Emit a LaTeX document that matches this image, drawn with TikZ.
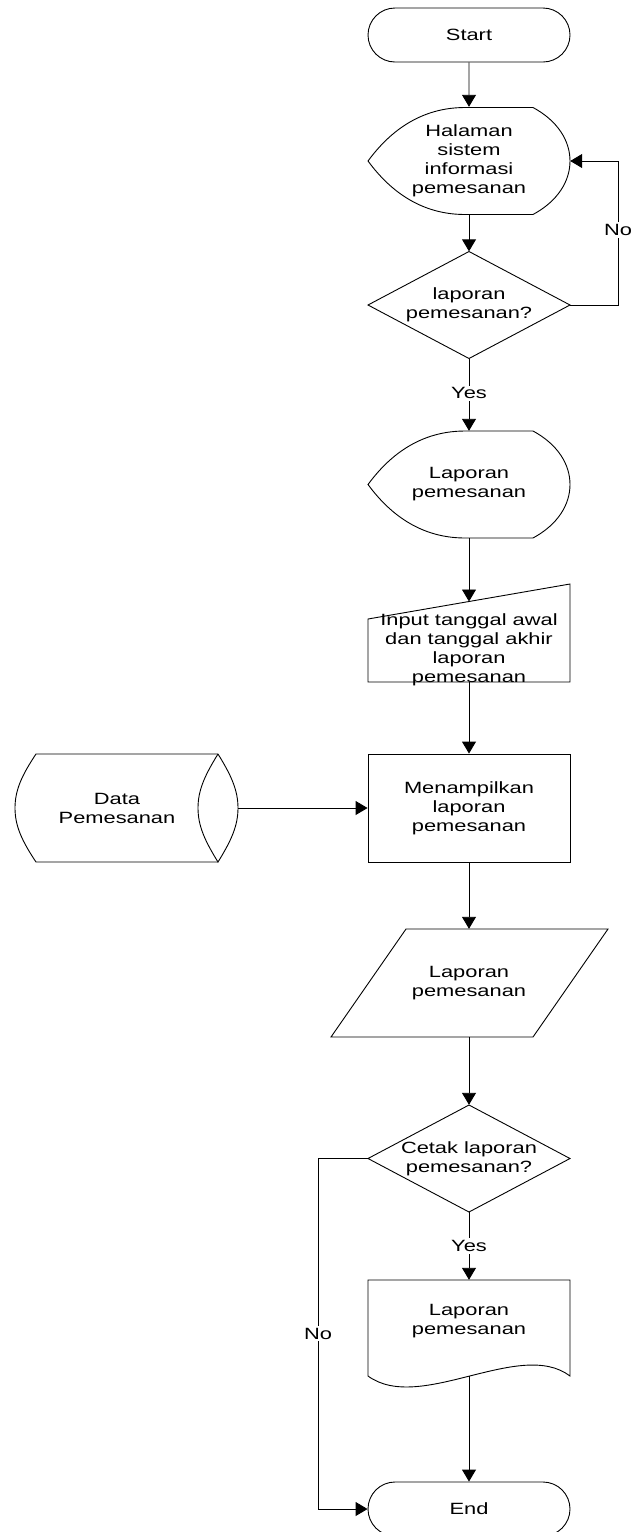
\documentclass[tikz,border=0pt]{standalone}
\usepackage{fontspec}
\setmainfont{Liberation Sans}[FakeStretch=1.34]
\usetikzlibrary{arrows.meta,shapes.misc}

\begin{document}
\begin{tikzpicture}[x=1pt,y=-1pt,
  every node/.style={font=\fontsize{16.3}{19}\selectfont, align=center, inner sep=0pt},
  outline/.style={draw=black, line width=0.9pt, line join=miter},
  flow/.style={draw=black, line width=0.9pt, -{Triangle[width=14pt,length=12pt]}},
  term/.style={outline, rounded rectangle, minimum width=202pt, minimum height=54pt},
  cond/.style={fill=white, inner sep=2pt},
  dispshape/.pic={
    \draw[outline] (-101,0) .. controls (-84,-23) and (-54,-53.5) .. (-4,-53.5)
      -- (64,-53.5) .. controls (89,-40) and (101,-20) .. (101,0)
      .. controls (101,20) and (89,40) .. (64,53.5)
      -- (-4,53.5) .. controls (-54,53.5) and (-84,23) .. cycle;
  },
  diamondshape/.pic={
    \draw[outline] (0,-53.5) -- (101,0) -- (0,53.5) -- (-101,0) -- cycle;
  }
]
\useasboundingbox (0,0) rectangle (634,1532);

% ---------- shapes ----------
\node[term] (start) at (469,35) {Start};

\pic at (469,161) {dispshape};
\node[minimum width=202pt, minimum height=108pt] (disp1) at (469,161)
  {Halaman\\sistem\\informasi\\pemesanan};

\pic at (469,305) {diamondshape};
\node[minimum width=202pt, minimum height=107pt] (dec1) at (469,305)
  {laporan\\pemesanan?};

\pic at (469,484.5) {dispshape};
\node[minimum width=202pt, minimum height=107pt] (disp2) at (469,484.5)
  {Laporan\\pemesanan};

% manual input
\draw[outline] (368,619) -- (570,584) -- (570,682) -- (368,682) -- cycle;
\node[minimum width=202pt, minimum height=98pt] (manin) at (469,633) {};
\coordinate (manin-in) at (469,601.5);
\node (manin-text) at (469,650)
  {Input tanggal awal\\dan tanggal akhir\\laporan\\pemesanan};

% process
\node[outline, minimum width=202pt, minimum height=108pt] (proc) at (469,808)
  {Menampilkan\\laporan\\pemesanan};

% stored data
\draw[outline] (218,754) -- (36,754)
  .. controls (22,775) and (15,790) .. (15,808)
  .. controls (15,826) and (22,841) .. (36,862) -- (218,862);
\draw[outline] (218,754) .. controls (205,775) and (198,790) .. (198,808)
  .. controls (198,826) and (205,841) .. (218,862)
  .. controls (231,841) and (238,826) .. (238,808)
  .. controls (238,790) and (231,775) .. (218,754);
\node[minimum width=223pt, minimum height=108pt] (cyl) at (126.5,808) {};
\node (cyl-text) at (117,808.5) {Data\\Pemesanan};

% output
\draw[outline] (406,929) -- (608,929) -- (533,1037) -- (331,1037) -- cycle;
\node[minimum width=202pt, minimum height=108pt] (out) at (469,983)
  {Laporan\\pemesanan};

\pic at (469,1158.5) {diamondshape};
\node[minimum width=202pt, minimum height=107pt] (dec2) at (469,1158.5)
  {Cetak laporan\\pemesanan?};

% document
\draw[outline] (368,1280) -- (570,1280) -- (570,1376)
  .. controls (520,1338) and (420,1414) .. (368,1376) -- cycle;
\node[minimum width=202pt, minimum height=96pt] (doc) at (469,1328) {};
\coordinate (doc-out) at (469,1376);
\node (doc-text) at (469,1321.5) {Laporan\\pemesanan};

\node[term] (end) at (469,1509) {End};

% ---------- connectors ----------
\draw[flow] (start) -- (disp1);
\draw[flow] (disp1) -- (dec1);
\draw[flow] (dec1.south) -- node[cond, pos=0.48] {Yes} (disp2.north);
\draw[flow] (dec1.east) -- (618,305) |- node[cond, pos=0.26] {No} (disp1.east);
\draw[flow] (disp2.south) -- (manin-in);
\draw[flow] (manin.south) -- (proc.north);
\draw[flow] (cyl.east) -- (proc.west);
\draw[flow] (proc.south) -- (out.north);
\draw[flow] (out.south) -- (dec2.north);
\draw[flow] (dec2.south) -- node[cond, pos=0.5] {Yes} (doc.north);
\draw[flow] (doc-out) -- (end.north);
\draw[flow] (dec2.west) -- (318,1158.5) |- node[cond, pos=0.25] {No} (end.west);
\end{tikzpicture}
\end{document}
